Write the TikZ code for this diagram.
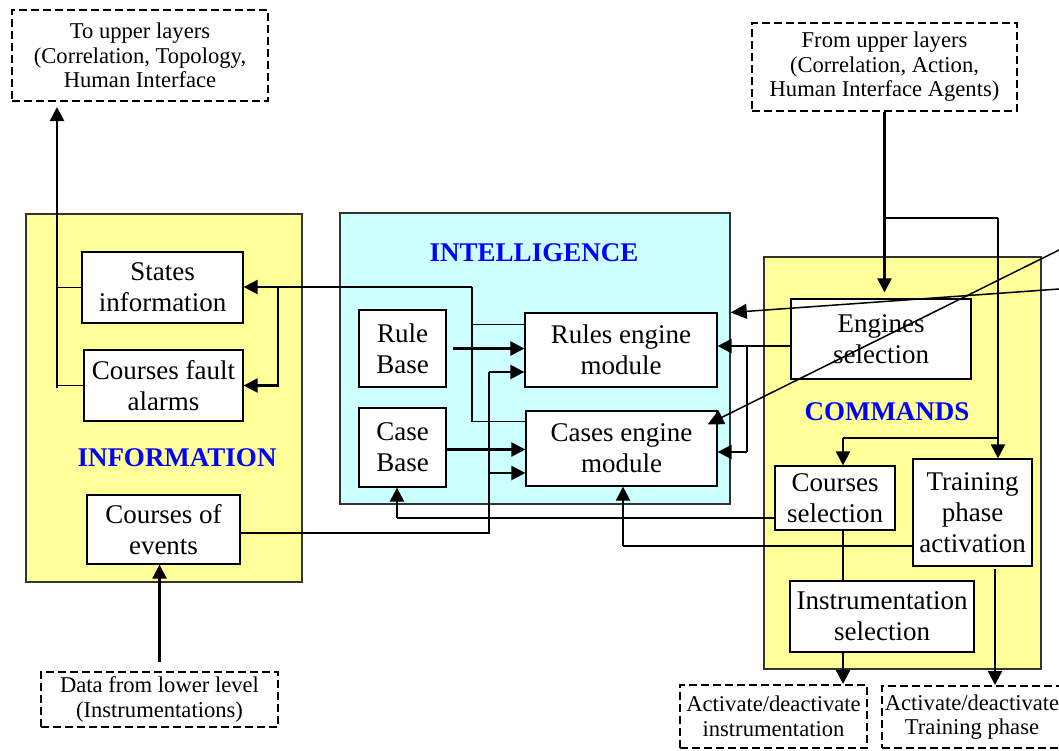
\documentclass[tikz,border=0pt]{standalone}
\usepackage{fontspec}
\setmainfont{Liberation Serif}
\usetikzlibrary{arrows.meta,calc}
\definecolor{panelyellow}{RGB}{255,255,153}
\definecolor{panelcyan}{RGB}{204,255,255}
\definecolor{labelblue}{RGB}{0,0,255}

\begin{document}
\begin{tikzpicture}[x=1pt,y=-1pt,
  modbox/.style={draw=black, line width=1.2pt, fill=white, inner sep=0pt,
    align=center, font=\fontsize{27}{31}\selectfont},
  extbox/.style={draw=black, line width=2pt, dash pattern=on 8pt off 4pt,
    fill=white, inner sep=0pt, align=center, font=\fontsize{22.6}{24.5}\selectfont},
  panel/.style={draw=black!80, line width=1.5pt, inner sep=0pt},
  layerlabel/.style={text=labelblue, inner sep=0pt, font=\fontsize{27}{31}\selectfont\bfseries},
  thk/.style={line width=2.2pt},
  thn/.style={line width=1.2pt},
  diag/.style={line width=1.5pt, -{Triangle[length=16pt,width=15pt]}},
  >={Triangle[length=14pt,width=14pt]}
]
\useasboundingbox (0,0) rectangle (1059,750);

% ---- layer panels ----
\node[panel, fill=panelyellow, minimum width=276pt, minimum height=368pt] (info) at (164,398) {};
\node[panel, fill=panelcyan, minimum width=390pt, minimum height=291pt] (intel) at (535,358.5) {};
\node[panel, fill=panelyellow, minimum width=277pt, minimum height=412pt] (cmd) at (902.5,463) {};

\node[layerlabel] (infolabel) at (177,458) {INFORMATION};
\node[layerlabel] (intellabel) at (534,253) {INTELLIGENCE};
\node[layerlabel] (cmdlabel) at (887,412) {COMMANDS};

% ---- external sources and sinks ----
\node[extbox, minimum width=256pt, minimum height=91pt] (toUp) at (140,55.5)
  {To upper layers\\(Correlation, Topology,\\Human Interface};
\node[extbox, minimum width=265pt, minimum height=88pt] (fromUp) at (884.5,67)
  {From upper layers\\(Correlation, Action,\\Human Interface Agents)};
\node[extbox, minimum width=237pt, minimum height=55pt] (data) at (159.5,699.5)
  {Data from lower level\\(Instrumentations)};
\node[extbox, minimum width=187pt, minimum height=63pt] (actInstr) at (773.5,716.5)
  {Activate/deactivate\\instrumentation};
\node[extbox, minimum width=180pt, minimum height=62pt] (actTrain) at (972,717)
  {Activate/deactivate\\Training phase};

% ---- information layer ----
\node[modbox, minimum width=161pt, minimum height=71pt] (states) at (162.5,287.5) {States\\information};
\node[modbox, minimum width=159pt, minimum height=71pt] (fault) at (163.5,385.5) {Courses fault\\alarms};
\node[modbox, minimum width=153pt, minimum height=69pt] (events) at (163.5,529.5) {Courses of\\events};

% ---- intelligence layer ----
\node[modbox, minimum width=87pt, minimum height=77pt] (rulebase) at (402.5,348.5) {Rule\\Base};
\node[modbox, minimum width=87pt, minimum height=79pt] (casebase) at (402.5,447.5) {Case\\Base};
\node[modbox, minimum width=192pt, minimum height=74pt] (rules) at (621,350) {Rules engine\\module};
\node[modbox, minimum width=191pt, minimum height=75pt] (cases) at (621.5,448.5) {Cases engine\\module};

% ---- commands layer ----
\node[modbox, minimum width=180pt, minimum height=80pt] (engines) at (881,339) {Engines\\selection};
\node[modbox, minimum width=120pt, minimum height=64pt] (courses) at (835,498) {Courses\\selection};
\node[modbox, minimum width=119pt, minimum height=107pt] (training) at (972.5,512.5) {Training\\phase\\activation};
\node[modbox, minimum width=184pt, minimum height=71pt] (instr) at (882,616.5) {Instrumentation\\selection};

% ---- routing points ----
\coordinate (upFoot) at (57,388);
\coordinate (fbTop) at (472,287);
\coordinate (fbFork) at (278,287);
\coordinate (evFoot) at (489,533);
\coordinate (evTop) at (489,372);
\coordinate (evMid) at (489,473);
\coordinate (selFork) at (747,346);
\coordinate (selFoot) at (747,452);
\coordinate (trTop) at (998,218);
\coordinate (crFork) at (998,438);
\coordinate (crDrop) at (843,438);
\coordinate (cbFoot) at (397,518);
\coordinate (ceFoot) at (623,546);
\coordinate (tpFoot) at (995,569);
\coordinate (extA) at (1080,239.6);
\coordinate (extB) at (1080,287.5);

% information sent to the upper layers
\draw[thk,->,shorten >=5pt] (upFoot) -- (upFoot |- toUp.south);
\draw[thn] (states.west) -- (states.west -| upFoot);
\draw[thn] (fault.west) -- (fault.west -| upFoot);

% engine results back to the information layer
\draw[thn] ([yshift=-12pt]rules.north west) -| (fbTop);
\draw[thn] ([yshift=-11pt]cases.north west) -| (fbTop);
\draw[thk,->] (fbTop) -- (fbTop -| states.east);
\draw[thk,->] (fbFork) |- (fault.east);

% knowledge bases into the engines
\draw[thk,->] ([xshift=6pt]rulebase.east) -- (rulebase.east -| rules.west);
\draw[thk,->] ([yshift=-2pt]casebase.east) -- ([yshift=-2pt]casebase.east -| cases.west);

% courses of events into both engines
\draw[thn] (evFoot -| events.east) -- (evFoot) -- (evTop);
\draw[thk,->] (evTop) -- (evTop -| rules.west);
\draw[thk,->] (evMid) -- (evMid -| cases.west);

% engines selection
\draw[thk,->] (selFork -| engines.west) -- (selFork -| rules.east);
\draw[thn] (selFork) -- (selFoot);
\draw[thk,->] (selFoot) -- (selFoot -| cases.east);

% commands from the upper layers
\draw[thk,->,shorten >=6pt] (fromUp.south) -- (fromUp.south |- engines.north);
\draw[thn] (fromUp.south |- trTop) -- (trTop);
\draw[thk,->] (trTop) -- (trTop |- training.north);
\draw[thn] (crFork) -- (crDrop);
\draw[thk,->] (crDrop) -- (crDrop |- courses.north);

% selections fed back to the intelligence layer
\draw[thn] (courses.west |- cbFoot) -- (cbFoot);
\draw[thk,->] (cbFoot) -- (cbFoot |- casebase.south);
\draw[thn] (training.west |- ceFoot) -- (ceFoot);
\draw[thk,->] (ceFoot) -- (ceFoot |- cases.south);

% commands sent downwards
\draw[thn] (crDrop |- courses.south) -- (crDrop |- instr.north);
\draw[thk,->] (crDrop |- instr.south) -- (crDrop |- actInstr.north);
\draw[thk,->] (tpFoot) -- (tpFoot |- actTrain.north);

% data from the lower level
\draw[thk,->] ([yshift=9pt]data.north) -- (data.north |- events.south);

% links arriving from the right
\draw[diag] (extA) -- ([xshift=-10pt,yshift=-14pt]cases.north east);
\draw[diag] (extB) -- ([yshift=46pt]intel.east);
\end{tikzpicture}
\end{document}
